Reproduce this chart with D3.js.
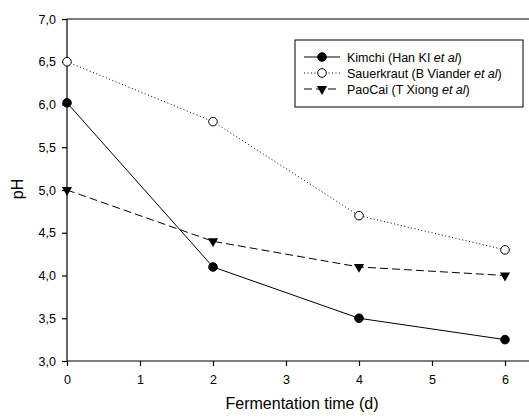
<!DOCTYPE html>
<html>
<head>
<meta charset="utf-8">
<script src="https://cdn.jsdelivr.net/npm/d3@7"></script>
<style>
  body { margin: 0; background: #fff; }
  text { font-family: "Liberation Sans", Arial, sans-serif; fill: #000; }
</style>
</head>
<body>
<div id="chart"></div>
<script>
// Data
const days = [0, 2, 4, 6];
const kimchi = [6.02, 4.1, 3.5, 3.25];
const sauerkraut = [6.5, 5.8, 4.7, 4.3];
const paocai = [5.0, 4.4, 4.1, 4.0];
const xTicks = [0, 1, 2, 3, 4, 5, 6];
const yTicks = [3.0, 3.5, 4.0, 4.5, 5.0, 5.5, 6.0, 6.5, 7.0];
const seriesNames = ['Kimchi (Han KI ', 'Sauerkraut (B Viander ', 'PaoCai (T Xiong '];

const width = 529, height = 420;
const margin = { left: 67, top: 19, bottom: 59 };

const svg = d3.select('#chart').append('svg')
    .attr('width', width)
    .attr('height', height);

const x = d3.scaleLinear().domain([0, 6]).range([67, 505]);
const y = d3.scaleLinear().domain([3, 7]).range([height - margin.bottom, margin.top]);

// Axes
const yAxis = svg.append('g')
    .attr('transform', `translate(${x(0)},0)`)
    .call(d3.axisLeft(y).tickValues(yTicks).tickSize(5).tickPadding(6)
        .tickFormat(d => d3.format('.1f')(d).replace('.', ',')));
const xAxis = svg.append('g')
    .attr('transform', `translate(0,${y(3)})`)
    .call(d3.axisBottom(x).tickValues(xTicks).tickSize(5).tickPadding(9)
        .tickFormat(d3.format('d')));

[yAxis, xAxis].forEach(a => {
    a.select('.domain').remove();
    a.selectAll('line').attr('stroke', '#000').attr('stroke-width', 1.2);
    a.selectAll('text').style('font-size', '12.5px')
        .style('font-family', '"Liberation Sans", Arial, sans-serif');
});

// Frame: left axis, bottom axis and top line (top and bottom run off the right edge)
svg.append('line')
    .attr('x1', x(0)).attr('x2', x(0))
    .attr('y1', y(7)).attr('y2', y(3))
    .attr('stroke', '#000').attr('stroke-width', 1.2);
[7, 3].forEach(v => {
    svg.append('line')
        .attr('x1', x(0)).attr('x2', width)
        .attr('y1', y(v)).attr('y2', y(v))
        .attr('stroke', '#000').attr('stroke-width', 1.2);
});

// Axis titles
svg.append('text')
    .attr('x', 302).attr('y', 409)
    .attr('text-anchor', 'middle')
    .style('font-size', '16px')
    .text('Fermentation time (d)');
svg.append('text')
    .attr('transform', 'translate(23,189) rotate(-90)')
    .attr('text-anchor', 'middle')
    .style('font-size', '16px')
    .text('pH');

// Series
const series = [
    { values: kimchi, dash: null, marker: 'filled' },
    { values: sauerkraut, dash: '1,2.5', marker: 'open' },
    { values: paocai, dash: '8,4', marker: 'triangle' }
];

const line = d3.line().x(d => x(d[0])).y(d => y(d[1]));
const triangle = d3.symbol().type(d3.symbolTriangle).size(45);

function drawMarker(g, type, cx, cy) {
    if (type === 'triangle') {
        g.append('path')
            .attr('d', triangle())
            .attr('transform', `translate(${cx},${cy}) rotate(180)`)
            .attr('fill', '#000');
    } else {
        g.append('circle')
            .attr('cx', cx).attr('cy', cy).attr('r', 4.3)
            .attr('fill', type === 'filled' ? '#000' : '#fff')
            .attr('stroke', '#000').attr('stroke-width', 1);
    }
}

series.forEach(s => {
    const pts = days.map((d, i) => [d, s.values[i]]);
    svg.append('path')
        .attr('d', line(pts))
        .attr('fill', 'none')
        .attr('stroke', '#000')
        .attr('stroke-width', 1)
        .attr('stroke-dasharray', s.dash);
    const g = svg.append('g');
    pts.forEach(p => drawMarker(g, s.marker, x(p[0]), y(p[1])));
});

// Legend
const legend = svg.append('g');
legend.append('rect')
    .attr('x', 295).attr('y', 40)
    .attr('width', 228).attr('height', 67)
    .attr('fill', '#fff')
    .attr('stroke', '#000').attr('stroke-width', 1);

series.forEach((s, i) => {
    const ly = 57 + i * 16;
    legend.append('line')
        .attr('x1', 304).attr('x2', 340)
        .attr('y1', ly).attr('y2', ly)
        .attr('stroke', '#000').attr('stroke-width', 1)
        .attr('stroke-dasharray', s.dash);
    drawMarker(legend, s.marker, 322, ly);
    const t = legend.append('text')
        .attr('x', 347).attr('y', ly + 4.5)
        .style('font-size', '12.5px');
    t.append('tspan').text(seriesNames[i]);
    t.append('tspan').style('font-style', 'italic').text('et al');
    t.append('tspan').text(')');
});
</script>
</body>
</html>
